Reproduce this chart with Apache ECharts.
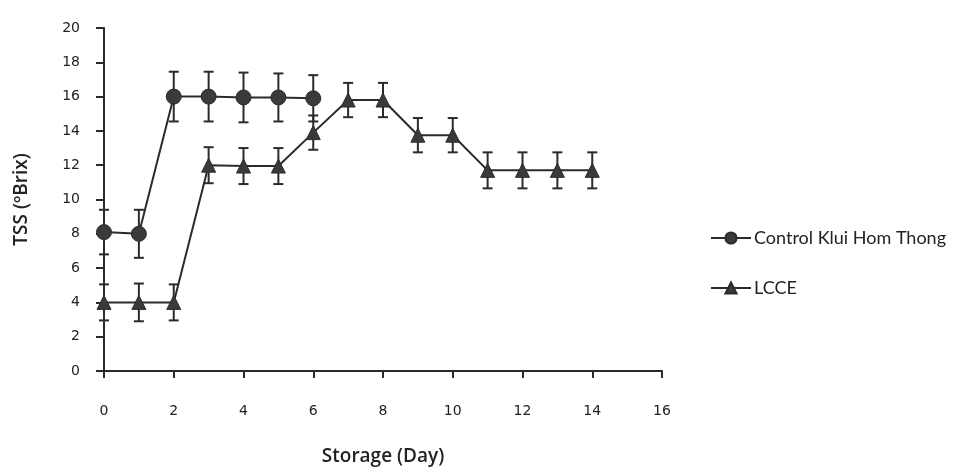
<!DOCTYPE html>
<html>
<head>
<meta charset="utf-8">
<script src="https://cdn.jsdelivr.net/npm/echarts@6/dist/echarts.min.js"></script>
<style>
html,body{margin:0;padding:0;background:#fff;}
#chart{width:979px;height:473px;}
</style>
</head>
<body>
<div id="chart"></div>
<script>
var controlDays = [0, 1, 2, 3, 4, 5, 6];
var controlMean = [8.1, 8.0, 16.0, 16.0, 15.95, 15.95, 15.9];
var controlErr  = [1.3, 1.4, 1.45, 1.45, 1.45, 1.4, 1.35];

var lcceDays = [0, 1, 2, 3, 4, 5, 6, 7, 8, 9, 10, 11, 12, 13, 14];
var lcceMean = [4.0, 4.0, 4.0, 12.0, 11.95, 11.95, 13.9, 15.8, 15.8, 13.75, 13.75, 11.7, 11.7, 11.7, 11.7];
var lcceErr  = [1.05, 1.1, 1.05, 1.05, 1.05, 1.05, 1.0, 1.0, 1.0, 1.0, 1.0, 1.05, 1.05, 1.05, 1.05];

var xTicks = [0, 2, 4, 6, 8, 10, 12, 14, 16];
var yTicks = [0, 2, 4, 6, 8, 10, 12, 14, 16, 18, 20];

var seriesNames = ['Control Klui Hom Thong', 'LCCE'];

function pairs(days, mean) { return days.map(function (d, i) { return [d, mean[i]]; }); }
function triples(days, mean, err) { return days.map(function (d, i) { return [d, mean[i], err[i]]; }); }

var ink = '#2b2b2b';

function errorRender(params, api) {
  var x = api.value(0), y = api.value(1), e = api.value(2);
  var hi = api.coord([x, y + e]);
  var lo = api.coord([x, y - e]);
  var hw = 5;
  var st = { stroke: ink, lineWidth: 2 };
  return {
    type: 'group',
    children: [
      { type: 'line', shape: { x1: hi[0], y1: hi[1], x2: lo[0], y2: lo[1] }, style: st },
      { type: 'line', shape: { x1: hi[0] - hw, y1: hi[1], x2: hi[0] + hw, y2: hi[1] }, style: st },
      { type: 'line', shape: { x1: lo[0] - hw, y1: lo[1], x2: lo[0] + hw, y2: lo[1] }, style: st }
    ]
  };
}

var chart = echarts.init(document.getElementById('chart'));
chart.setOption({
  backgroundColor: '#ffffff',
  animation: false,
  grid: { left: 104, right: 317, top: 28, bottom: 102, containLabel: false, outerBoundsMode: 'none' },
  legend: {
    data: seriesNames,
    orient: 'vertical',
    left: 705,
    top: 224,
    itemGap: 32,
    itemWidth: 40,
    itemHeight: 14,
    textStyle: { fontFamily: 'Lato', fontSize: 18, color: '#222', padding: [0, 0, 0, -2] }
  },
  xAxis: {
    type: 'value', min: 0, max: 16, interval: 2,
    name: 'Storage (Day)', nameLocation: 'middle', nameGap: 76,
    nameTextStyle: { fontFamily: 'Open Sans', fontWeight: 600, fontSize: 19, color: '#222' },
    axisLine: { show: true, lineStyle: { color: ink, width: 2 } },
    axisTick: { show: true, length: 7, lineStyle: { color: ink, width: 2 } },
    axisLabel: { margin: 33, fontFamily: 'DejaVu Sans', fontSize: 14, color: '#222',
      formatter: function (v) { return xTicks.indexOf(v) >= 0 ? String(v) : ''; } },
    splitLine: { show: false }
  },
  yAxis: {
    type: 'value', min: 0, max: 20, interval: 2,
    name: 'TSS (ºBrix)', nameLocation: 'middle', nameGap: 73,
    nameTextStyle: { fontFamily: 'Open Sans', fontWeight: 600, fontSize: 19, color: '#222' },
    axisLine: { show: true, lineStyle: { color: ink, width: 2 } },
    axisTick: { show: true, length: 8, lineStyle: { color: ink, width: 2 } },
    axisLabel: { margin: 24, fontFamily: 'DejaVu Sans', fontSize: 14, color: '#222',
      formatter: function (v) { return yTicks.indexOf(v) >= 0 ? String(v) : ''; } },
    splitLine: { show: false }
  },
  series: [
    {
      type: 'custom', renderItem: errorRender, z: 1, silent: true,
      data: triples(controlDays, controlMean, controlErr)
    },
    {
      type: 'custom', renderItem: errorRender, z: 1, silent: true,
      data: triples(lcceDays, lcceMean, lcceErr)
    },
    {
      name: seriesNames[0], type: 'line', z: 3,
      data: pairs(controlDays, controlMean),
      symbol: 'circle', symbolSize: 15,
      lineStyle: { color: ink, width: 2 },
      itemStyle: { color: '#3a3a3a', borderColor: ink, borderWidth: 1 }
    },
    {
      name: seriesNames[1], type: 'line', z: 3,
      data: pairs(lcceDays, lcceMean),
      symbol: 'triangle', symbolSize: 14,
      lineStyle: { color: ink, width: 2 },
      itemStyle: { color: '#3a3a3a', borderColor: ink, borderWidth: 1 }
    }
  ]
});
</script>
</body>
</html>
